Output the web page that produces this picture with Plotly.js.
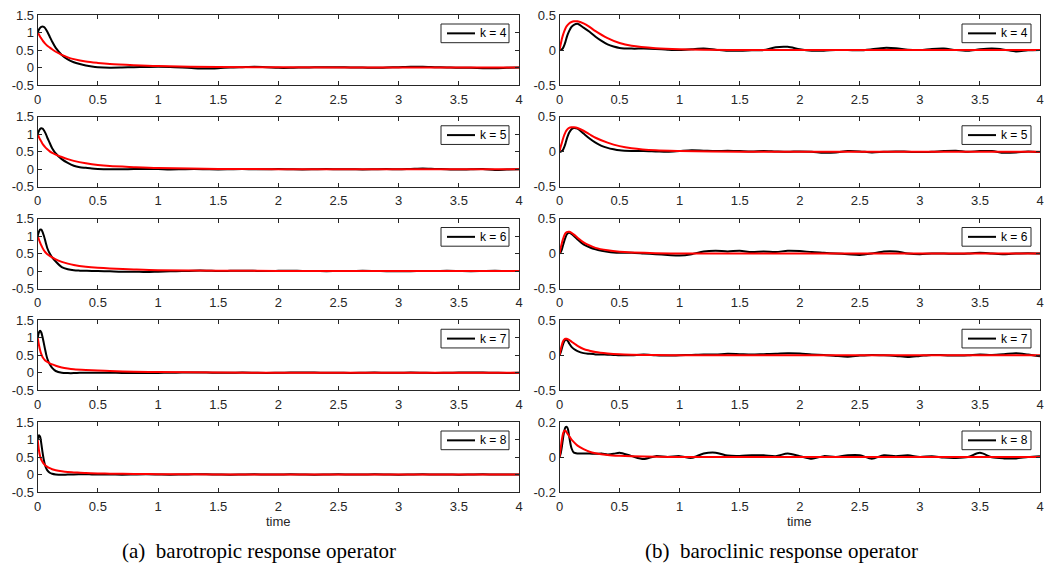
<!DOCTYPE html>
<html>
<head>
<meta charset="utf-8">
<script src="https://cdn.plot.ly/plotly-3.0.1.min.js"></script>
<style>html,body{margin:0;padding:0;background:#fff;}#chart{width:1045px;height:567px;}</style>
</head>
<body>
<div id="chart"></div>
<script>
// ---------- data ----------
const kValues = [4, 5, 6, 7, 8];
const legendLabels = ['k = 4', 'k = 5', 'k = 6', 'k = 7', 'k = 8'];

const timeBlack = [0,0.01,0.02,0.03,0.04,0.05,0.06,0.07,0.08,0.1,0.12,0.15,0.2,0.25,0.3,0.35,0.4,0.45,0.5,
  0.6,0.7,0.8,0.9,1.0,1.1,1.2,1.3,1.4,1.5,1.6,1.7,1.8,1.9,2.0,2.1,2.2,2.3,2.4,2.5,2.6,2.7,2.8,2.9,3.0,
  3.1,3.2,3.3,3.4,3.5,3.6,3.7,3.8,3.9,4.0];
const timeRed = [0,0.01,0.02,0.03,0.04,0.05,0.06,0.08,0.1,0.12,0.15,0.2,0.25,0.3,0.4,0.5,0.6,0.8,1.0,1.5,2.0,3.0,4.0];

// barotropic (a) - black: data, red: model
const baroTropBlackK4 = [1.0,1.08,1.13,1.16,1.17,1.16,1.13,1.08,1.02,0.88,0.74,0.56,0.36,0.23,0.15,0.1,0.06,0.03,0.01,
  -0.005,0.0,0.01,0.015,0.02,0.015,0.0,-0.02,-0.03,-0.02,0.0,0.01,0.02,0.01,-0.01,-0.01,0.0,0.01,0.01,0.01,0.0,0.0,-0.01,0.0,0.01,
  0.02,0.02,0.01,0.0,-0.01,-0.01,-0.02,-0.02,-0.01,0.0];
const baroTropBlackK5 = [1.0,1.09,1.15,1.17,1.16,1.12,1.06,0.99,0.9,0.75,0.6,0.45,0.29,0.18,0.1,0.06,0.04,0.02,0.01,
  0.0,0.0,0.005,0.01,0.005,-0.005,0.0,0.005,0.0,-0.005,0.0,0.005,0.0,0.0,0.005,0.0,-0.005,0.0,0.005,0.0,0.0,-0.005,0.0,0.005,0.0,
  0.01,0.02,0.01,0.0,-0.01,0.0,0.005,-0.02,-0.01,0.0];
const baroTropBlackK6 = [1.0,1.12,1.18,1.18,1.12,1.02,0.9,0.77,0.65,0.5,0.39,0.27,0.11,0.05,0.02,0.01,0.005,0.0,0.0,
  -0.01,-0.02,-0.02,-0.03,-0.02,-0.01,0.0,0.01,0.01,0.0,0.005,0.01,0.005,0.0,0.005,0.01,0.0,0.0,-0.005,0.0,0.0,0.005,0.0,-0.005,-0.01,
  -0.005,0.0,0.0,0.005,0.0,-0.005,0.0,0.005,0.0,0.0];
const baroTropBlackK7 = [1.0,1.15,1.2,1.15,1.02,0.86,0.69,0.53,0.4,0.24,0.14,0.05,0.0,-0.01,-0.01,0.0,0.0,0.0,0.0,
  0.0,-0.005,-0.01,-0.01,-0.005,0.0,0.005,0.01,0.005,0.0,0.0,0.005,0.0,-0.005,0.0,0.005,0.01,0.005,0.0,0.0,-0.005,0.0,0.005,0.0,0.0,
  0.005,0.0,-0.005,0.0,0.005,0.01,0.005,0.0,-0.005,0.0];
const baroTropBlackK8 = [1.0,1.12,1.08,0.88,0.64,0.43,0.28,0.18,0.12,0.05,0.02,0.0,-0.01,0.0,0.0,0.005,0.01,0.0,0.0,
  0.0,-0.005,0.0,0.005,0.0,-0.005,0.0,0.005,0.005,0.0,-0.005,0.0,0.005,0.0,0.0,0.005,0.0,-0.005,0.0,0.005,0.0,0.0,0.005,0.0,-0.005,
  0.0,0.005,0.0,0.0,-0.005,0.0,0.005,0.0,0.0,0.0];

const baroTropRedK4 = [1,0.94,0.88,0.83,0.78,0.73,0.69,0.62,0.57,0.52,0.45,0.36,0.29,0.24,0.17,0.13,0.1,0.065,0.04,0.015,0.005,0,0];
const baroTropRedK5 = [1,0.92,0.85,0.79,0.73,0.68,0.64,0.57,0.51,0.47,0.42,0.35,0.29,0.24,0.17,0.12,0.09,0.06,0.035,0.01,0.003,0,0];
const baroTropRedK6 = [1,0.9,0.81,0.73,0.66,0.6,0.55,0.48,0.43,0.39,0.33,0.26,0.21,0.17,0.12,0.09,0.07,0.045,0.025,0.008,0.002,0,0];
const baroTropRedK7 = [1,0.8,0.64,0.53,0.45,0.4,0.36,0.31,0.27,0.24,0.2,0.15,0.12,0.1,0.08,0.065,0.05,0.03,0.02,0.005,0,0,0];
const baroTropRedK8 = [1,0.7,0.52,0.42,0.36,0.31,0.27,0.22,0.18,0.15,0.12,0.09,0.07,0.06,0.04,0.03,0.025,0.015,0.01,0,0,0,0];

// baroclinic (b)
const baroClinBlackK4 = [0,0.0,0.01,0.03,0.07,0.12,0.18,0.23,0.27,0.33,0.36,0.375,0.32,0.26,0.19,0.13,0.08,0.05,0.03,
  0.02,0.02,0.015,0.005,0.0,0.01,0.02,0.005,-0.01,-0.01,-0.005,0.0,0.04,0.045,0.01,-0.01,-0.01,0.0,0.0,-0.005,0.01,0.03,0.025,0.005,0.0,
  0.015,0.02,0.0,-0.01,0.01,0.02,0.005,-0.02,-0.005,0.0];
const baroClinBlackK5 = [0,0.0,0.01,0.03,0.07,0.12,0.18,0.23,0.27,0.32,0.34,0.33,0.26,0.19,0.13,0.085,0.055,0.035,0.02,
  0.01,0.01,0.005,0.0,0.01,0.02,0.015,0.01,0.015,0.01,0.005,0.012,0.005,0.0,0.005,0.0,-0.015,-0.01,0.01,0.005,-0.01,0.0,0.005,0.0,-0.005,
  0.0,0.01,0.015,0.0,0.01,0.01,-0.015,-0.01,0.005,-0.005];
const baroClinBlackK6 = [0,0.02,0.06,0.12,0.18,0.23,0.27,0.29,0.295,0.28,0.25,0.2,0.13,0.09,0.06,0.04,0.025,0.015,0.01,
  0.01,0.0,-0.01,-0.02,-0.03,-0.01,0.03,0.04,0.03,0.04,0.02,0.03,0.02,0.04,0.035,0.02,0.01,0.0,-0.01,-0.02,0.0,0.03,0.03,0.0,-0.01,
  0.0,0.0,-0.005,0.0,0.01,0.0,-0.01,0.0,0.005,0.0];
const baroClinBlackK7 = [0,0.04,0.1,0.16,0.2,0.22,0.22,0.2,0.17,0.12,0.09,0.06,0.03,0.02,0.012,0.01,0.008,0.005,0.0,
  0.0,0.01,0.0,-0.005,0.0,0.005,0.01,0.01,0.02,0.015,0.01,0.015,0.02,0.03,0.025,0.01,0.005,-0.01,-0.02,-0.005,0.005,0.0,-0.01,-0.025,-0.01,
  0.005,0.0,-0.005,0.0,0.01,0.005,0.015,0.03,0.01,-0.015];
const baroClinBlackK8 = [0,0.02,0.06,0.11,0.15,0.17,0.172,0.16,0.12,0.05,0.025,0.02,0.02,0.02,0.018,0.02,0.015,0.018,0.025,
  0.005,-0.012,0.005,0.0,0.005,-0.005,0.02,0.025,0.008,0.006,0.01,0.01,0.005,0.02,0.005,-0.01,0.005,0.0,0.01,0.01,-0.01,0.01,0.005,0.01,0.0,
  0.005,-0.003,-0.005,0.0,0.024,-0.002,-0.008,-0.008,0.0,0.005];

const baroClinRedK4 = [0,0.08,0.16,0.22,0.27,0.31,0.34,0.38,0.4,0.41,0.41,0.38,0.33,0.27,0.17,0.1,0.06,0.025,0.01,0,0,0,0];
const baroClinRedK5 = [0,0.07,0.13,0.19,0.24,0.28,0.31,0.34,0.35,0.35,0.34,0.3,0.25,0.2,0.13,0.08,0.05,0.02,0.01,0,0,0,0];
const baroClinRedK6 = [0,0.08,0.15,0.21,0.26,0.29,0.305,0.31,0.295,0.27,0.225,0.16,0.115,0.08,0.045,0.025,0.015,0.005,0,0,0,0,0];
const baroClinRedK7 = [0,0.08,0.15,0.2,0.225,0.235,0.235,0.22,0.195,0.17,0.135,0.09,0.065,0.045,0.025,0.013,0.008,0.003,0,0,0,0,0];
const baroClinRedK8 = [0,0.05,0.1,0.135,0.15,0.15,0.14,0.12,0.1,0.085,0.065,0.045,0.03,0.022,0.012,0.007,0.004,0.002,0,0,0,0,0];

const xTickVals = [0,0.5,1,1.5,2,2.5,3,3.5,4];
const xTickText = ['0','0.5','1','1.5','2','2.5','3','3.5','4'];
const yTickValsTrop = [-0.5,0,0.5,1,1.5];
const yTickTextTrop = ['-0.5','0','0.5','1','1.5'];
const yTickValsClin = [-0.5,0,0.5];
const yTickTextClin = ['-0.5','0','0.5'];
const yTickValsClin8 = [-0.2,0,0.2];
const yTickTextClin8 = ['-0.2','0','0.2'];

const xTitle = 'time';
const captions = ['(a)\u00a0 barotropic response operator', '(b)\u00a0 baroclinic response operator'];

const tropBlack = [baroTropBlackK4, baroTropBlackK5, baroTropBlackK6, baroTropBlackK7, baroTropBlackK8];
const tropRed = [baroTropRedK4, baroTropRedK5, baroTropRedK6, baroTropRedK7, baroTropRedK8];
const clinBlack = [baroClinBlackK4, baroClinBlackK5, baroClinBlackK6, baroClinBlackK7, baroClinBlackK8];
const clinRed = [baroClinRedK4, baroClinRedK5, baroClinRedK6, baroClinRedK7, baroClinRedK8];

// ---------- layout geometry (px) ----------
const W = 1045, H = 567;
const colLeft = [37.7, 519];
const colRight = [559.5, 1040];
const rowTop0 = 15, rowPitch = 101.75, rowH = 70;
const sans = 'Liberation Sans, Arial, Helvetica, sans-serif';
const axCol = '#262626';

const traces = [];
const layout = {
  width: W, height: H,
  margin: {l: 0, r: 0, t: 0, b: 0},
  paper_bgcolor: '#fff', plot_bgcolor: '#fff',
  showlegend: false,
  annotations: [],
  shapes: []
};

function yDom(i) {
  const top = rowTop0 + i * rowPitch;
  return [1 - (top + rowH) / H, 1 - top / H];
}
const px = v => v / W;
const py = v => 1 - v / H;

function axisBase() {
  return {
    showline: true, mirror: 'ticks', linecolor: axCol, linewidth: 1,
    ticks: 'inside', ticklen: 4, tickwidth: 1, tickcolor: axCol,
    showgrid: false, zeroline: false, fixedrange: true,
    tickfont: {family: sans, size: 13, color: axCol}
  };
}

let n = 0;
for (let side = 0; side < 2; side++) {
  for (let i = 0; i < 5; i++) {
    n++;
    const xa = 'x' + n, ya = 'y' + n;
    const blackY = side === 0 ? tropBlack[i] : clinBlack[i];
    const redY = side === 0 ? tropRed[i] : clinRed[i];
    traces.push({
      x: timeBlack, y: blackY, xaxis: xa, yaxis: ya, type: 'scatter', mode: 'lines',
      line: {color: '#000000', width: 2, shape: 'spline', smoothing: 0.8},
      name: legendLabels[i], hoverinfo: 'skip'
    });
    traces.push({
      x: timeRed, y: redY, xaxis: xa, yaxis: ya, type: 'scatter', mode: 'lines',
      line: {color: '#ff0000', width: 2, shape: 'spline', smoothing: 0.8},
      name: 'model k = ' + kValues[i], hoverinfo: 'skip'
    });
    const col = side === 0 ? colLeft : colRight;
    const xax = axisBase();
    Object.assign(xax, {
      domain: [col[0] / W, col[1] / W], anchor: ya, range: [0, 4],
      tickmode: 'array', tickvals: xTickVals, ticktext: xTickText,
      ticklabelstandoff: 2
    });
    const yax = axisBase();
    let yr, yv, yt;
    if (side === 0) { yr = [-0.5, 1.5]; yv = yTickValsTrop; yt = yTickTextTrop; }
    else if (i < 4) { yr = [-0.5, 0.5]; yv = yTickValsClin; yt = yTickTextClin; }
    else { yr = [-0.2, 0.2]; yv = yTickValsClin8; yt = yTickTextClin8; }
    Object.assign(yax, {
      domain: yDom(i), anchor: xa, range: yr,
      tickmode: 'array', tickvals: yv, ticktext: yt
    });
    layout['xaxis' + n] = xax;
    layout['yaxis' + n] = yax;

    // legend box (one entry: black line + label)
    const boxL = side === 0 ? 441 : 962;
    const boxR = side === 0 ? 509 : 1031;
    const boxT = 24 + i * rowPitch, boxB = boxT + 18.7;
    const midY = (boxT + boxB) / 2;
    layout.shapes.push({
      type: 'rect', xref: 'paper', yref: 'paper',
      x0: px(boxL), x1: px(boxR), y0: py(boxB), y1: py(boxT),
      line: {color: axCol, width: 1}, fillcolor: '#ffffff', layer: 'above'
    });
    layout.shapes.push({
      type: 'line', xref: 'paper', yref: 'paper',
      x0: px(boxL + 6), x1: px(boxL + 34), y0: py(midY), y1: py(midY),
      line: {color: '#000000', width: 2}, layer: 'above'
    });
    layout.annotations.push({
      text: legendLabels[i], xref: 'paper', yref: 'paper',
      x: px(boxL + 36.5), y: py(midY), xanchor: 'left', yanchor: 'middle',
      showarrow: false, font: {family: sans, size: 12, color: '#000'}
    });
  }
  const col = side === 0 ? colLeft : colRight;
  layout.annotations.push({
    text: xTitle, xref: 'paper', yref: 'paper',
    x: (col[0] + col[1]) / 2 / W, y: py(521), xanchor: 'center', yanchor: 'middle',
    showarrow: false, font: {family: sans, size: 13, color: axCol}
  });
  layout.annotations.push({
    text: captions[side], xref: 'paper', yref: 'paper',
    x: px(side === 0 ? 259 : 781), y: py(551), xanchor: 'center', yanchor: 'middle',
    showarrow: false, font: {family: 'Liberation Serif, Times New Roman, serif', size: 21, color: '#000'}
  });
}

Plotly.newPlot('chart', traces, layout, {staticPlot: true, displayModeBar: false});
</script>
</body>
</html>
